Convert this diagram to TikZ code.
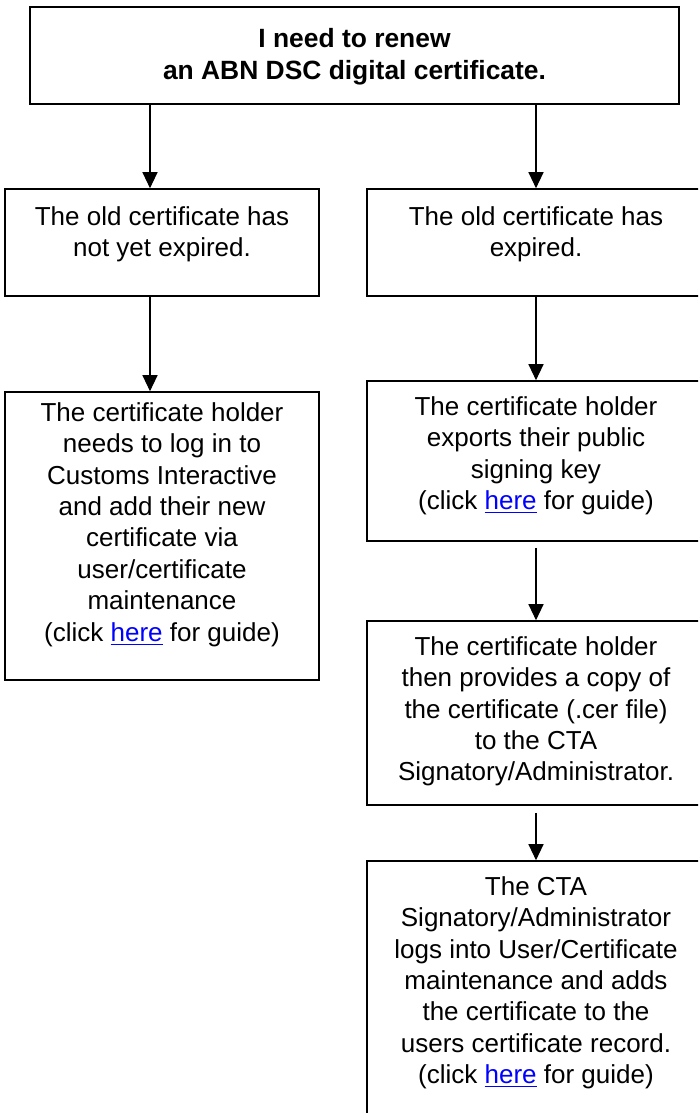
\documentclass[tikz,border=0pt]{standalone}
\usepackage{fontspec}
\setmainfont{Liberation Sans}
\usetikzlibrary{arrows.meta}
\begin{document}
\begin{tikzpicture}[x=0.5pt,y=-0.5pt,
  box/.style={draw=black,line width=0.8pt,inner sep=0pt,rectangle},
  txt/.style={inner sep=0pt,align=center,anchor=north,font=\fontsize{13}{15.7}\selectfont},
  ttl/.style={inner sep=0pt,align=center,anchor=north,font=\fontsize{13.2}{16}\selectfont\bfseries},
  arr/.style={line width=0.6pt,-{Triangle[length=8pt,width=7.5pt]}}]
\useasboundingbox (0,0) rectangle (698,1113);
\clip (0,0) rectangle (698,1113);
\newcommand{\lnk}{\textcolor{blue}{\underline{here}}}
% boxes
\node[box,minimum width=324.5pt,minimum height=48.5pt] (top) at (354.5,55.5) {};
\node[box,minimum width=157pt,minimum height=53.5pt] (L2) at (162,242.5) {};
\node[box,minimum width=169pt,minimum height=53.5pt] (R2) at (536,242.5) {};
\node[box,minimum width=157pt,minimum height=144pt] (L3) at (162,536) {};
\node[box,minimum width=169pt,minimum height=80pt] (R3) at (536,461) {};
\node[box,minimum width=169pt,minimum height=92pt] (R4) at (536,713) {};
\node[box,minimum width=169pt,minimum height=134.5pt] (R5) at (536,995.5) {};
% texts
\node[ttl] (topt) at (354.5,28) {I need to renew\\an ABN DSC digital certificate.};
\node[txt] (L2t) at (162,206) {The old certificate has\\not yet expired.};
\node[txt] (R2t) at (536,206) {The old certificate has\\expired.};
\node[txt] (L3t) at (162,402) {The certificate holder\\needs to log in to\\Customs Interactive\\and add their new\\certificate via\\user/certificate\\maintenance\\(click \lnk{} for guide)};
\node[txt] (R3t) at (536,396) {The certificate holder\\exports their public\\signing key\\(click \lnk{} for guide)};
\node[txt] (R4t) at (536,636) {The certificate holder\\then provides a copy of\\the certificate (.cer file)\\to the CTA\\Signatory/Administrator.};
\node[txt] (R5t) at (536,876) {The CTA\\Signatory/Administrator\\logs into User/Certificate\\maintenance and adds\\the certificate to the\\users certificate record.\\(click \lnk{} for guide)};
% connectors
\coordinate (xl) at (150,0);
\coordinate (xr) at (536,0);
\draw[arr] (top.south -| xl) -- (L2.north -| xl);
\draw[arr] (top.south -| xr) -- (R2.north -| xr);
\draw[arr] (L2.south -| xl) -- (L3.north -| xl);
\draw[arr] (R2.south -| xr) -- (R3.north -| xr);
\draw[arr,shorten <=3pt] (R3.south -| xr) -- (R4.north -| xr);
\draw[arr,shorten <=3.5pt] (R4.south -| xr) -- (R5.north -| xr);
\end{tikzpicture}
\end{document}
